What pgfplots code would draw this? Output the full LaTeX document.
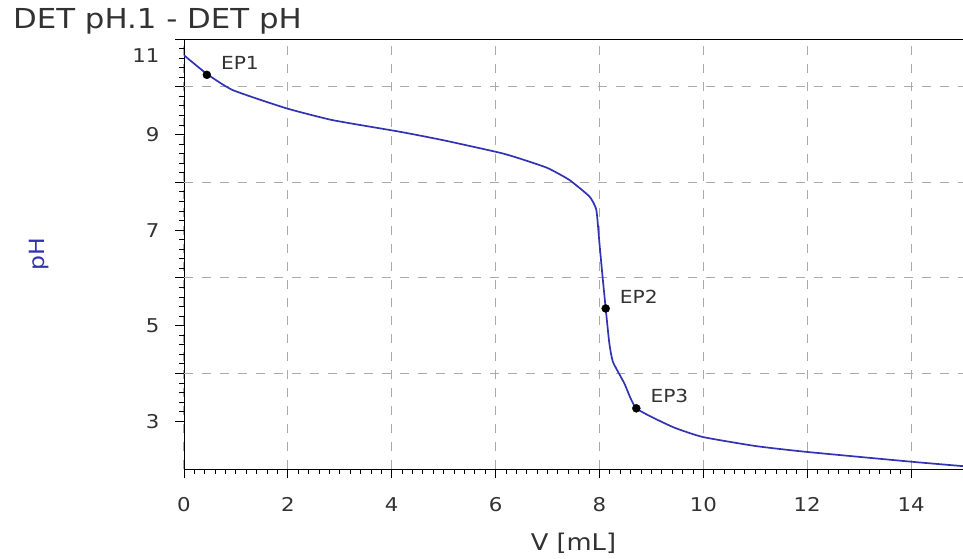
\documentclass[border=0pt]{standalone}
\usepackage{pgfplots}
\pgfplotsset{compat=1.18}
\usepackage{fontspec}
\setmainfont{DejaVu Sans}[FakeStretch=1.12]
\definecolor{curveblue}{RGB}{50,50,180}
\definecolor{txt}{RGB}{50,50,50}
\definecolor{gridgray}{RGB}{170,170,170}
\begin{document}
\begin{tikzpicture}
  \begin{axis}[
    scale only axis,
    width=779bp, height=430bp,
    xmin=0, xmax=15,
    ymin=2, ymax=11,
    axis line style={black, line width=0.9bp},
    tick align=outside,
    xtick pos=bottom, ytick pos=left,
    xtick={0,2,...,14},
    ytick={3,5,7,9,11},
    yticklabels={3,5,7,9,\smash{\raisebox{-24bp}{11}}},
    minor x tick num=9,
    minor y tick num=9,
    xmajorgrids=true, ymajorgrids=false,
    extra y ticks={4,6,8,10},
    extra y tick labels={},
    extra y tick style={ymajorgrids=true},
    major grid style={gridgray, dash pattern=on 9bp off 9bp, line width=1.1bp},
    major tick length=9bp,
    minor tick length=5bp,
    every tick/.style={black, line width=0.9bp},
    /pgf/number format/assume math mode=true,
    tick label style={font=\fontsize{19bp}{21bp}\selectfont, text=txt},
    xticklabel style={yshift=-16bp},
    yticklabel style={xshift=-12bp},
    xlabel={V [mL]},
    xlabel style={at={(rel axis cs:0.5,0)}, anchor=center, yshift=-74bp,
      font=\fontsize{23bp}{25bp}\selectfont, text=txt},
    ylabel={pH},
    ylabel style={at={(rel axis cs:0,0.5)}, anchor=center, yshift=145bp,
      font=\fontsize{21bp}{23bp}\selectfont, text=curveblue},
    clip=false,
  ]
    % titration curve
    \addplot[curveblue, line width=1.7bp, smooth, tension=0.3] coordinates {
      (0,10.66) (0.44,10.27) (0.94,9.93) (1.97,9.55) (2.87,9.30) (4.15,9.06)
      (5.0,8.88) (6.08,8.62) (6.46,8.50) (7.0,8.30) (7.42,8.05) (7.81,7.70)
      (7.94,7.42) (8.0,6.72) (8.06,6.02) (8.12,5.36) (8.19,4.63) (8.26,4.24)
      (8.48,3.79) (8.71,3.27) (9.41,2.88) (9.99,2.67) (11.01,2.48)
      (11.97,2.36) (14.03,2.15) (15,2.06)
    };
    % equivalence points
    \addplot[only marks, mark=*, mark size=4bp, black,
      point meta=explicit symbolic,
      nodes near coords,
      every node near coord/.append style={anchor=west, inner sep=0pt,
        xshift=14bp, yshift=12bp, text=txt,
        font=\fontsize{18bp}{20bp}\selectfont}]
      coordinates {
      (0.44,10.25) [EP1]
      (8.12,5.36) [EP2]
      (8.71,3.27) [EP3]
    };
  \end{axis}
  \node[anchor=base west, inner sep=0pt, text=txt,
    font=\fontsize{27.5bp}{29bp}\selectfont]
    at ([shift={(-171bp,10bp)}]current axis.north west) {DET pH.1 - DET pH};
  \pgfresetboundingbox
  \path[use as bounding box] ([shift={(-184bp,-90bp)}]current axis.south west)
    rectangle ([shift={(0bp,39bp)}]current axis.north east);
\end{tikzpicture}
\end{document}
